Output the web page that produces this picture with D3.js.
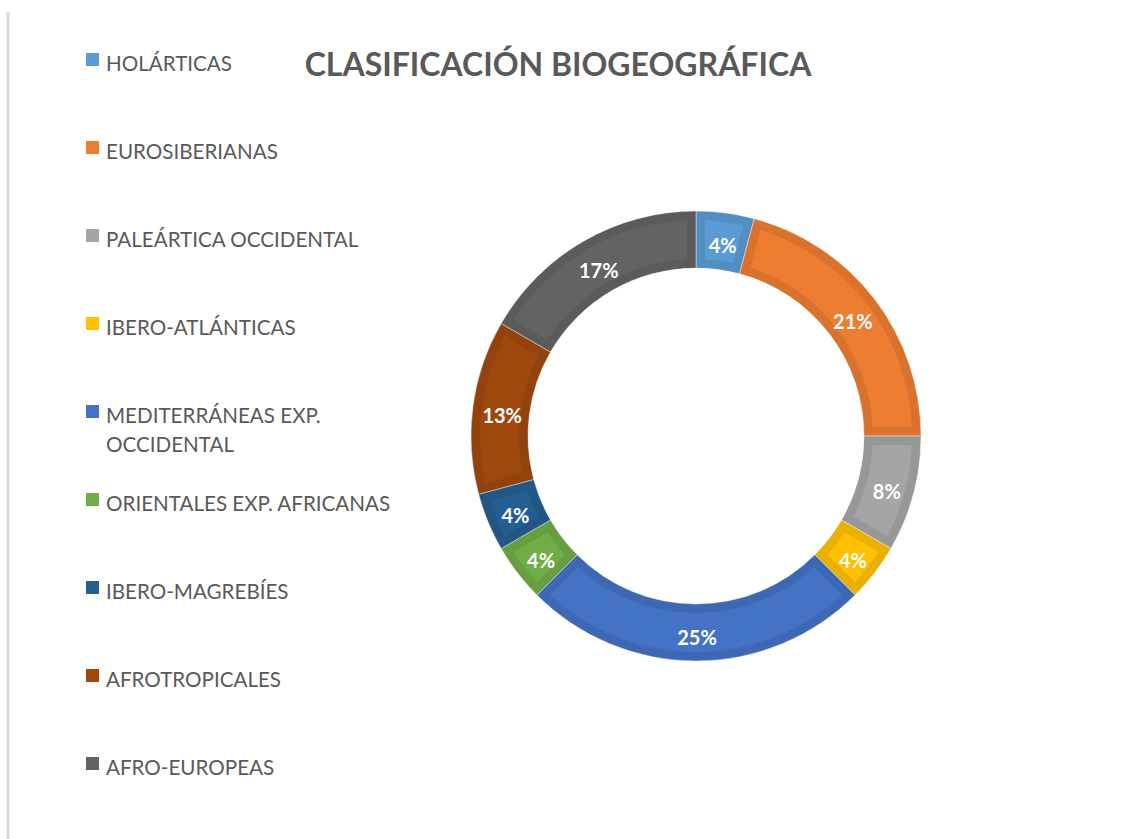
<!DOCTYPE html>
<html>
<head>
<meta charset="utf-8">
<script src="https://cdn.jsdelivr.net/npm/d3@7"></script>
<style>
  body { margin: 0; background: #fff; }
  svg { display: block; }
</style>
</head>
<body>
<div id="chart"></div>
<script>
// data
const categories = ["HOLÁRTICAS", "EUROSIBERIANAS", "PALEÁRTICA OCCIDENTAL", "IBERO-ATLÁNTICAS",
    "MEDITERRÁNEAS EXP. OCCIDENTAL", "ORIENTALES EXP. AFRICANAS", "IBERO-MAGREBÍES",
    "AFROTROPICALES", "AFRO-EUROPEAS"];
const counts = [1, 5, 2, 1, 6, 1, 1, 3, 4];
const colors = ["#5B9BD5", "#ED7D31", "#A5A5A5", "#FFC000", "#4472C4", "#70AD47",
    "#255E91", "#9E480E", "#636363"];
const legendLines = [["HOLÁRTICAS"], ["EUROSIBERIANAS"], ["PALEÁRTICA OCCIDENTAL"], ["IBERO-ATLÁNTICAS"],
    ["MEDITERRÁNEAS EXP.", "OCCIDENTAL"], ["ORIENTALES EXP. AFRICANAS"], ["IBERO-MAGREBÍES"],
    ["AFROTROPICALES"], ["AFRO-EUROPEAS"]];
const title = "CLASIFICACIÓN BIOGEOGRÁFICA";

const width = 1132, height = 839;
const cx = 696, cy = 436, rOuter = 225, rInner = 168;
const inset = 9;

const svg = d3.select("#chart").append("svg")
    .attr("width", width)
    .attr("height", height);

// left frame edge
svg.append("line")
    .attr("x1", 8).attr("x2", 8)
    .attr("y1", 12).attr("y2", height)
    .attr("stroke", "#d9d9d9")
    .attr("stroke-width", 3);

svg.append("text")
    .attr("x", 558)
    .attr("y", 76)
    .attr("text-anchor", "middle")
    .attr("font-family", "Lato, 'Open Sans', sans-serif")
    .attr("font-weight", "bold")
    .attr("font-size", 32)
    .attr("fill", "#595959")
    .text(title);

const data = categories.map((c, i) => ({name: c, value: counts[i], color: colors[i]}));
const total = d3.sum(counts);

const pie = d3.pie().sort(null).value(d => d.value);
const arcs = pie(data);

const outerArc = d3.arc().innerRadius(rInner).outerRadius(rOuter);
const innerArc = d3.arc()
    .innerRadius(rInner + inset)
    .outerRadius(rOuter - inset)
    .padRadius(100)
    .padAngle(2 * inset / 100);
const labelArc = d3.arc().innerRadius((rInner + rOuter) / 2).outerRadius((rInner + rOuter) / 2);

const g = svg.append("g").attr("transform", `translate(${cx}, ${cy})`);

g.selectAll(".slice-border").data(arcs).enter()
    .append("path")
    .attr("class", "slice-border")
    .attr("d", outerArc)
    .attr("fill", d => d3.color(d.data.color).darker(0.25))
    .attr("stroke", "#fff")
    .attr("stroke-width", 0.4);

g.selectAll(".slice").data(arcs).enter()
    .append("path")
    .attr("class", "slice")
    .attr("d", innerArc)
    .attr("fill", d => d.data.color);

g.selectAll(".pct").data(arcs).enter()
    .append("text")
    .attr("class", "pct")
    .attr("transform", d => {
        const c = labelArc.centroid(d);
        return `translate(${c[0] + 1}, ${c[1] + 5})`;
    })
    .attr("dy", "0.36em")
    .attr("text-anchor", "middle")
    .attr("font-family", "Lato, 'Open Sans', sans-serif")
    .attr("font-weight", "bold")
    .attr("font-size", 20)
    .attr("fill", "#fff")
    .text(d => Math.round(d.data.value / total * 100) + "%");

// legend
const legendY = d3.scalePoint()
    .domain(categories)
    .range([71, 775]);

const legend = svg.selectAll(".legend").data(data).enter()
    .append("g")
    .attr("class", "legend")
    .attr("transform", d => `translate(86, ${legendY(d.name)})`);

legend.append("rect")
    .attr("x", 0)
    .attr("y", -18)
    .attr("width", 13)
    .attr("height", 13)
    .attr("fill", d => d.color);

legend.append("text")
    .attr("x", 20)
    .attr("font-family", "Lato, 'Open Sans', sans-serif")
    .attr("font-size", 20.6)
    .attr("fill", "#595959")
    .selectAll("tspan")
    .data((d, i) => legendLines[i])
    .enter()
    .append("tspan")
    .attr("x", 20)
    .attr("dy", (d, i) => i === 0 ? 0 : 29)
    .text(d => d);
</script>
</body>
</html>
